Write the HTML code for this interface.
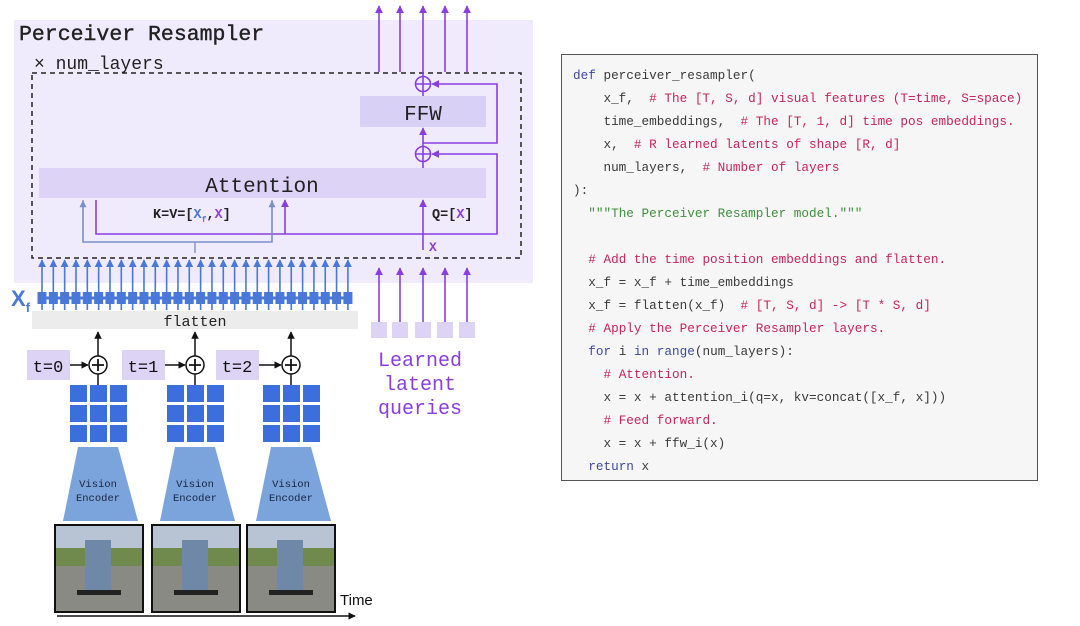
<!DOCTYPE html>
<html><head><meta charset="utf-8"><style>
body{margin:0;width:1080px;height:626px;background:#fff;overflow:hidden;position:relative;font-family:"Liberation Mono",monospace}
.code{position:absolute;left:561px;top:54px;width:477px;height:427px;border:1.5px solid #555;background:#f6f6f6;box-sizing:border-box}
.code pre{margin:0;position:absolute;left:11px;top:9px;font-family:"Liberation Mono",monospace;font-size:12.7px;line-height:23px;color:#3a3a3a}
.k{color:#3c4aa0}.c{color:#c8245a}.s{color:#3f8f3f}
</style></head><body>
<svg width="560" height="626" style="position:absolute;left:0;top:0" font-family="Liberation Mono, monospace">
<defs>
<marker id="ap" viewBox="0 0 10 10" refX="9" refY="5" markerWidth="5" markerHeight="5" orient="auto"><path d="M0,0L10,5L0,10z" fill="#8a3ee0"/></marker>
<marker id="ab" viewBox="0 0 10 10" refX="9" refY="5" markerWidth="5" markerHeight="5" orient="auto"><path d="M0,0L10,5L0,10z" fill="#4a78d8"/></marker>
<marker id="ak" viewBox="0 0 10 10" refX="9" refY="5" markerWidth="5" markerHeight="5" orient="auto"><path d="M0,0L10,5L0,10z" fill="#111"/></marker>
<marker id="ag" viewBox="0 0 10 10" refX="9" refY="5" markerWidth="5" markerHeight="5" orient="auto"><path d="M0,0L10,5L0,10z" fill="#7a90c8"/></marker>
</defs>
<rect x="14" y="20" width="519" height="263" fill="#efebfc"/>
<text x="19" y="40" font-size="21.5" fill="#222" stroke="#222" stroke-width="0.4">Perceiver Resampler</text>
<text x="34" y="69" font-size="18" fill="#222">× num_layers</text>
<rect x="32" y="73" width="489" height="185" fill="none" stroke="#222" stroke-width="1.5" stroke-dasharray="5,4"/>
<rect x="360" y="96" width="126" height="31" fill="#d9d0f5"/>
<text x="423" y="120" font-size="21" text-anchor="middle" fill="#222">FFW</text>
<rect x="39" y="168" width="447" height="30" fill="#ddd3f6"/>
<text x="262" y="192" font-size="21" text-anchor="middle" fill="#222">Attention</text>
<g stroke="#8a3ee0" stroke-width="1.6" fill="none">
<line x1="423" y1="250" x2="423" y2="200" marker-end="url(#ap)"/>
<line x1="423" y1="168" x2="423" y2="162"/>
<line x1="423" y1="147" x2="423" y2="128" marker-end="url(#ap)"/>
<line x1="423" y1="96" x2="423" y2="91"/>
<polyline points="96,200 96,234 497,234 497,154 432,154" marker-end="url(#ap)"/>
<line x1="285" y1="234" x2="285" y2="200" marker-end="url(#ap)"/>
<polyline points="423,143 497,143 497,84 432,84" marker-end="url(#ap)"/>
<circle cx="423" cy="154" r="7.5" fill="#efebfc"/><path d="M416,154h14M423,147v14"/>
<circle cx="423" cy="84" r="7.5" fill="#efebfc"/><path d="M416,84h14M423,77v14"/>
<line x1="379" y1="72" x2="379" y2="6" marker-end="url(#ap)"/>
<line x1="400" y1="72" x2="400" y2="6" marker-end="url(#ap)"/>
<line x1="423" y1="77" x2="423" y2="6" marker-end="url(#ap)"/>
<line x1="445" y1="72" x2="445" y2="6" marker-end="url(#ap)"/>
<line x1="467" y1="72" x2="467" y2="6" marker-end="url(#ap)"/>
<line x1="379" y1="322" x2="379" y2="268" marker-end="url(#ap)"/>
<line x1="400" y1="322" x2="400" y2="268" marker-end="url(#ap)"/>
<line x1="423" y1="322" x2="423" y2="268" marker-end="url(#ap)"/>
<line x1="445" y1="322" x2="445" y2="268" marker-end="url(#ap)"/>
<line x1="467" y1="322" x2="467" y2="268" marker-end="url(#ap)"/>
</g>
<g stroke="#7a90c8" stroke-width="1.4" fill="none">
<polyline points="83,200 83,242 272,242 272,200"/>
<line x1="83" y1="242" x2="83" y2="201" marker-end="url(#ag)"/>
<line x1="272" y1="242" x2="272" y2="201" marker-end="url(#ag)"/>
<line x1="195" y1="242" x2="195" y2="253"/>
</g>
<text x="153" y="218" font-size="13.5" font-weight="bold" fill="#222">K=V=[<tspan fill="#4a78d8">X</tspan><tspan fill="#4a78d8" font-size="8" dy="4">f</tspan><tspan dy="-4">,</tspan><tspan fill="#8a3ee0">X</tspan>]</text>
<text x="432" y="218" font-size="13.5" font-weight="bold" fill="#222">Q=[<tspan fill="#8a3ee0">X</tspan>]</text>
<text x="429" y="251" font-size="13" font-weight="bold" fill="#8a3ee0">X</text>
<g id="blue" stroke="#4a78d8" stroke-width="1.6"></g>
<line x1="40" y1="298" x2="350" y2="298" stroke="#4a78d8" stroke-width="3"/>
<text x="11" y="306" font-size="22" font-weight="bold" fill="#4a78d8" font-family="Liberation Sans, sans-serif">X<tspan font-size="13" dy="6">f</tspan></text>
<rect x="32" y="311" width="326" height="18" fill="#ececec"/>
<text x="195" y="326" font-size="15" text-anchor="middle" fill="#222">flatten</text>
<g fill="#dcd3f5"><rect x="371" y="322" width="16" height="16"/><rect x="392" y="322" width="16" height="16"/><rect x="415" y="322" width="16" height="16"/><rect x="437" y="322" width="16" height="16"/><rect x="459" y="322" width="16" height="16"/></g>
<g font-size="20" fill="#8a3ee0" text-anchor="middle"><text x="420" y="366">Learned</text><text x="420" y="390">latent</text><text x="420" y="414">queries</text></g>
<line x1="57" y1="616" x2="355" y2="616" stroke="#111" stroke-width="1.5" marker-end="url(#ak)"/>
<text x="340" y="605" font-size="15" fill="#111" font-family="Liberation Sans, sans-serif">Time</text>
<g id="cols"></g>
</svg>
<div class="code"><pre><span class="k">def</span> perceiver_resampler(
    x_f,  <span class="c"># The [T, S, d] visual features (T=time, S=space)</span>
    time_embeddings,  <span class="c"># The [T, 1, d] time pos embeddings.</span>
    x,  <span class="c"># R learned latents of shape [R, d]</span>
    num_layers,  <span class="c"># Number of layers</span>
):
  <span class="s">"""The Perceiver Resampler model."""</span>

  <span class="c"># Add the time position embeddings and flatten.</span>
  x_f = x_f + time_embeddings
  x_f = flatten(x_f)  <span class="c"># [T, S, d] -&gt; [T * S, d]</span>
  <span class="c"># Apply the Perceiver Resampler layers.</span>
  <span class="k">for</span> i <span class="k">in</span> <span class="k">range</span>(num_layers):
    <span class="c"># Attention.</span>
    x = x + attention_i(q=x, kv=concat([x_f, x]))
    <span class="c"># Feed forward.</span>
    x = x + ffw_i(x)
  <span class="k">return</span> x</pre></div>
<script>
var ns="http://www.w3.org/2000/svg",svg=document.querySelector("svg"),b=document.getElementById("blue");
function el(p,t,a){var e=document.createElementNS(ns,t);for(var k in a)e.setAttribute(k,a[k]);p.appendChild(e);return e}
for(var i=0;i<28;i++){var x=42+i*11.33;
el(b,"line",{x1:x,y1:310,x2:x,y2:260,"marker-end":"url(#ab)"});
el(svg,"rect",{x:x-4.5,y:292,width:9,height:12,fill:"#4a78d8"});}
var c=document.getElementById("cols");
[[98,27,"t=0",55],[195,122,"t=1",152],[291,216,"t=2",247]].forEach(function(d){var cx=d[0];
el(c,"rect",{x:d[1],y:350,width:43,height:30,fill:"#dcd3f5"});
var t=el(c,"text",{x:d[1]+21,y:372,"font-size":17,"text-anchor":"middle",fill:"#111"});t.textContent=d[2];
el(c,"line",{x1:d[1]+43,y1:365,x2:cx-10,y2:365,stroke:"#111","stroke-width":1.5,"marker-end":"url(#ak)"});
el(c,"line",{x1:cx,y1:356,x2:cx,y2:332,stroke:"#111","stroke-width":1.5,"marker-end":"url(#ak)"});
el(c,"line",{x1:cx,y1:374,x2:cx,y2:386,stroke:"#111","stroke-width":1.5});
el(c,"circle",{cx:cx,cy:365,r:9,fill:"#fff",stroke:"#111","stroke-width":1.5});
el(c,"path",{d:"M"+(cx-6)+",365h12M"+cx+",359v12",stroke:"#111","stroke-width":1.8});
for(var r=0;r<3;r++)for(var q=0;q<3;q++)el(c,"rect",{x:cx-28+q*20,y:385+r*20,width:17,height:17,fill:"#3d6fdc"});
el(c,"path",{d:"M"+(cx-20)+",447H"+(cx+20)+"L"+(cx+40)+",521H"+(cx-35)+"Z",fill:"#7ba4dc"});
var v=el(c,"text",{x:cx,y:487,"font-size":10.5,"text-anchor":"middle",fill:"#1a2440"});v.textContent="Vision";
var e=el(c,"text",{x:cx,y:501,"font-size":10.5,"text-anchor":"middle",fill:"#1a2440"});e.textContent="Encoder";
var p=d[3];
el(c,"rect",{x:p,y:525,width:88,height:87,fill:"#8a8a84",stroke:"#111","stroke-width":2});
el(c,"rect",{x:p+1,y:526,width:86,height:22,fill:"#b8c4d4"});
el(c,"rect",{x:p+1,y:548,width:86,height:18,fill:"#6f8a4c"});
el(c,"rect",{x:p+30,y:540,width:26,height:50,fill:"#6f88a8"});
el(c,"rect",{x:p+22,y:590,width:44,height:5,fill:"#222"});
});
</script>
</body></html>
